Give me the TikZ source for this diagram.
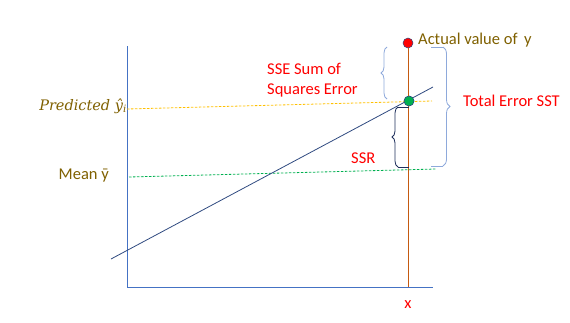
\documentclass[tikz,border=0pt]{standalone}
\usepackage{fontspec}
\setmainfont{Carlito}
\newfontfamily\predfont{DejaVu Serif}
\usetikzlibrary{decorations.pathreplacing,positioning}
\definecolor{axisblue}{HTML}{4472C4}
\definecolor{fitnavy}{HTML}{2F4A80}
\definecolor{braceblue}{HTML}{8EA9DB}
\definecolor{bracenavy}{HTML}{1F2F5C}
\definecolor{obsorange}{HTML}{C55A11}
\definecolor{labelolive}{HTML}{7F6000}
\definecolor{meangreen}{HTML}{00B050}
\definecolor{predgold}{HTML}{FFC000}

\begin{document}
\begin{tikzpicture}[
    x=1pt, y=-1pt,
    axis/.style={draw=axisblue, line width=0.9pt},
    level/.style={dashed, dash pattern=on 2.5pt off 1.5pt, line width=0.8pt},
    errbrace/.style={decorate, decoration={brace, amplitude=6pt}, line width=0.8pt},
    redlabel/.style={text=red, font=\fontsize{16.5}{20}\selectfont, align=left, inner sep=0pt},
    olivelabel/.style={text=labelolive, font=\fontsize{16.5}{20}\selectfont, inner sep=0pt},
    dot/.style={circle, draw=fitnavy, line width=0.5pt, minimum size=10pt, inner sep=0pt}
  ]
    \useasboundingbox (0,0) rectangle (570,322);

    % axes
    \coordinate (origin) at (127,287);
    \coordinate (ytop) at (127,46);
    \coordinate (xend) at (433,287);
    \draw[axis] (ytop) -- (origin) -- (xend);

    % observation at x
    \coordinate (xfoot) at (408,287);
    \node[dot, fill=red] (actual) at (408,43) {};
    \node[dot, fill=meangreen] (pred) at (409,101) {};
    \draw[obsorange, line width=0.9pt] (actual) -- (xfoot);

    % mean and predicted levels
    \coordinate (predL) at (127,109);
    \coordinate (predR) at (432,101);
    \coordinate (meanL) at (129,177);
    \coordinate (meanR) at (436,169);
    \draw[level, predgold] (predL) -- (predR);
    \draw[level, meangreen] (meanL) -- (meanR);

    % fitted line
    \coordinate (fitA) at (111,259);
    \coordinate (fitB) at (433,87);
    \draw[fitnavy, line width=0.8pt] (fitA) -- (fitB);
    \node[dot, fill=meangreen] at (pred) {};

    % braces
    \coordinate (sseT) at (387,47);
    \coordinate (sseB) at (387,99);
    \draw[errbrace, braceblue] (sseB) -- (sseT);
    \coordinate (ssrT) at (398,107);
    \coordinate (ssrB) at (398,167);
    \draw[bracenavy, line width=0.8pt] (409,107) -- (ssrT);
    \draw[errbrace, bracenavy] (ssrB) -- (ssrT);
    \draw[bracenavy, line width=0.8pt] (ssrB) -- (409,167);
    \coordinate (sstT) at (443,47);
    \coordinate (sstB) at (443,166);
    \draw[braceblue, line width=0.8pt] (431,47) -- (sstT);
    \draw[errbrace, braceblue, decoration={amplitude=7pt}] (sstT) -- (sstB);
    \draw[braceblue, line width=0.8pt] (sstB) -- (431,166);

    % labels
    \node[olivelabel, anchor=west] (actualtxt) at (418,40) {Actual value of\, y};
    \node[redlabel, anchor=west] (ssttxt) at (463,101) {Total Error SST};
    \node[redlabel, anchor=west] (ssetxt) at (267,80) {SSE Sum of\\Squares Error};
    \node[redlabel, anchor=west] (ssrtxt) at (351,158) {SSR};
    \node[redlabel] (xtxt) at (408,305) {x};
    \node[olivelabel, anchor=east] (meantxt) at (109,176) {Mean ȳ};
    \node[olivelabel, anchor=east, font=\fontsize{14.5}{18}\predfont\itshape] (predtxt) at (127,106) {Predicted ŷ\textsubscript{i}};
\end{tikzpicture}
\end{document}
